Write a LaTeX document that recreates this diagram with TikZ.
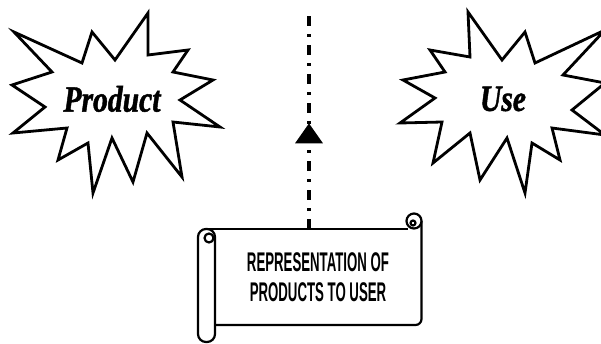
\documentclass[tikz,border=0pt]{standalone}
\usepackage{fontspec}
\usetikzlibrary{arrows.meta,decorations.markings}
\newfontfamily\burstfont[FakeStretch=0.8,FakeBold=1.2]{Liberation Serif}
\newfontfamily\scrollfont{Liberation Sans}
\newcommand\narrowtext[1]{\scalebox{0.49}[1]{#1}}
\tikzset{
  pu burst/.style={draw=black, line width=2.8pt, line join=miter, fill=white},
  pu burst label/.style={font=\burstfont\bfseries\itshape\fontsize{37}{40}\selectfont, inner sep=0pt},
  pu scroll/.style={draw=black, line width=2.2pt, line join=round},
  pu scroll label/.style={font=\scrollfont\bfseries\fontsize{27}{30}\selectfont, align=center, inner sep=0pt, minimum width=207pt, minimum height=96pt},
  pu flow/.style={line width=3.6pt, dash pattern=on 10pt off 8pt on 3pt off 8pt},
}
\begin{document}
\begin{tikzpicture}[x=1pt,y=-1pt]
  \useasboundingbox (0,0) rectangle (601,343);
  % product burst
  \draw[pu burst] (14,32)--(82,63)--(92,32)--(115,60)--(148,13)--(148,55)--(188,50)--(173,72)--(213,80)--(180,100)--(220,127)--(173,122)--(182,177)--(147,133)--(133,182)--(112,138)--(93,193)--(88,143)--(58,160)--(67,128)--(13,133)--(45,107)--(12,85)--(52,72)--cycle;
  \node[pu burst label] (product) at (112,99) {Product};
  % use burst
  \draw[pu burst] (468,12)--(502,60)--(525,32)--(535,63)--(605,30)--(563,75)--(605,83)--(572,110)--(605,135)--(552,128)--(560,160)--(532,143)--(525,193)--(507,138)--(480,180)--(470,133)--(433,163)--(442,122)--(400,123)--(435,98)--(403,80)--(445,72)--(430,50)--(470,57)--cycle;
  \node[pu burst label] (use) at (503,99) {Use};
  % scroll
  \draw[pu scroll, rounded corners=6pt] (205,229) -- (408,229);
  \draw[pu scroll, rounded corners=6pt] (421.5,221) -- (421.5,325) -- (213,325);
  \draw[pu scroll, fill=white] (414,221) circle[radius=7.5];
  \draw[pu scroll] (413,223) circle[radius=2.5];
  \draw[pu scroll, fill=white, rounded corners=8pt] (198,229) rectangle (215,342);
  \draw[pu scroll] (209,238) circle[radius=4.5];
  \node[pu scroll label] (scroll) at (318,277) {\narrowtext{REPRESENTATION OF}\\\narrowtext{PRODUCTS TO USER}};
  % flow line
  \coordinate (flowtop) at (309,9);
  \draw[pu flow, decoration={markings, mark=at position 0.48 with {\arrow{Triangle[length=20pt,width=27pt]}}}, postaction=decorate]
    (scroll.north -| flowtop) -- (flowtop);
\end{tikzpicture}
\end{document}
